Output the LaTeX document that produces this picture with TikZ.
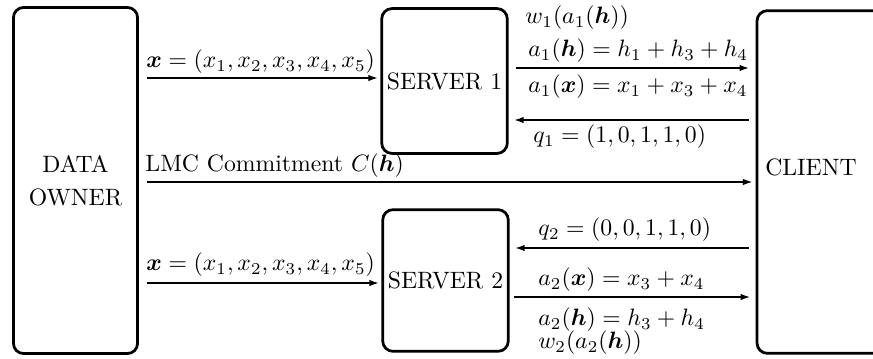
\documentclass[tikz,border=0pt]{standalone}
\usepackage{fix-cm}
\usepackage{amsmath}
\usetikzlibrary{arrows.meta}
\begin{document}
\begin{tikzpicture}[x=0.4348pt,y=-0.4348pt,
  every node/.style={font=\fontsize{10.3pt}{12.4pt}\selectfont},
  party/.style={draw,line width=1.2pt,rounded corners=4.5pt,rectangle,inner sep=0pt,align=center},
  arr/.style={line width=0.5pt,-{Latex[length=4pt,width=2.8pt]}},
  lab/.style={anchor=west,inner sep=0pt}]
\useasboundingbox (0,0) rectangle (873,358);
\node[party,minimum width=54pt,minimum height=150.5pt] (do) at (75.5,180.5) {DATA\\[2pt]OWNER};
\node[party,minimum width=54.6pt,minimum height=63pt] (s1) at (444.5,81) {SERVER 1};
\node[party,minimum width=54.6pt,minimum height=61.6pt] (s2) at (445.5,280.5) {SERVER 2};
\node[party,minimum width=100pt,minimum height=149pt] (cl) at (872,182) {};
\node[inner sep=0pt] (cllab) at (811,167) {CLIENT};
% data owner -> servers
\draw[arr,shorten <=3.5pt,shorten >=1.2pt] (do.east |- 0,78) -- (s1.west |- 0,78);
\node[lab] (lx1) at (146,62) {$\boldsymbol{x}=(x_1,x_2,x_3,x_4,x_5)$};
\draw[arr,shorten <=3.5pt,shorten >=1.2pt] (do.east |- 0,283) -- (s2.west |- 0,283);
\node[lab] (lx2) at (146,265) {$\boldsymbol{x}=(x_1,x_2,x_3,x_4,x_5)$};
% commitment
\draw[arr,shorten <=3.5pt,shorten >=1.5pt] (do.east |- 0,182) -- (cl.west |- 0,182);
\node[lab] (lmc) at (145,166) {LMC Commitment $C(\boldsymbol{h})$};
% server 1 <-> client
\draw[arr,shorten <=3pt,shorten >=3pt] (s1.east |- 0,68) -- (cl.west |- 0,68);
\node[lab] (w1) at (525,18) {$w_1(a_1(\boldsymbol{h}))$};
\node[lab] (a1h) at (528,51) {$a_1(\boldsymbol{h})=h_1+h_3+h_4$};
\node[lab] (a1x) at (528,87) {$a_1(\boldsymbol{x})=x_1+x_3+x_4$};
\draw[arr,shorten <=3pt,shorten >=2.5pt] (cl.west |- 0,120) -- (s1.east |- 0,120);
\node[lab] (q1) at (533,137) {$q_1=(1,0,1,1,0)$};
% server 2 <-> client
\draw[arr,shorten <=3pt,shorten >=2.5pt] (cl.west |- 0,248) -- (s2.east |- 0,248);
\node[lab] (q2) at (538,230) {$q_2=(0,0,1,1,0)$};
\draw[arr,shorten <=2pt,shorten >=2.5pt] (s2.east |- 0,297) -- (cl.west |- 0,297);
\node[lab] (a2x) at (538,280) {$a_2(\boldsymbol{x})=x_3+x_4$};
\node[lab] (a2h) at (538,320) {$a_2(\boldsymbol{h})=h_3+h_4$};
\node[lab] (w2) at (538,343) {$w_2(a_2(\boldsymbol{h}))$};
\end{tikzpicture}
\end{document}
